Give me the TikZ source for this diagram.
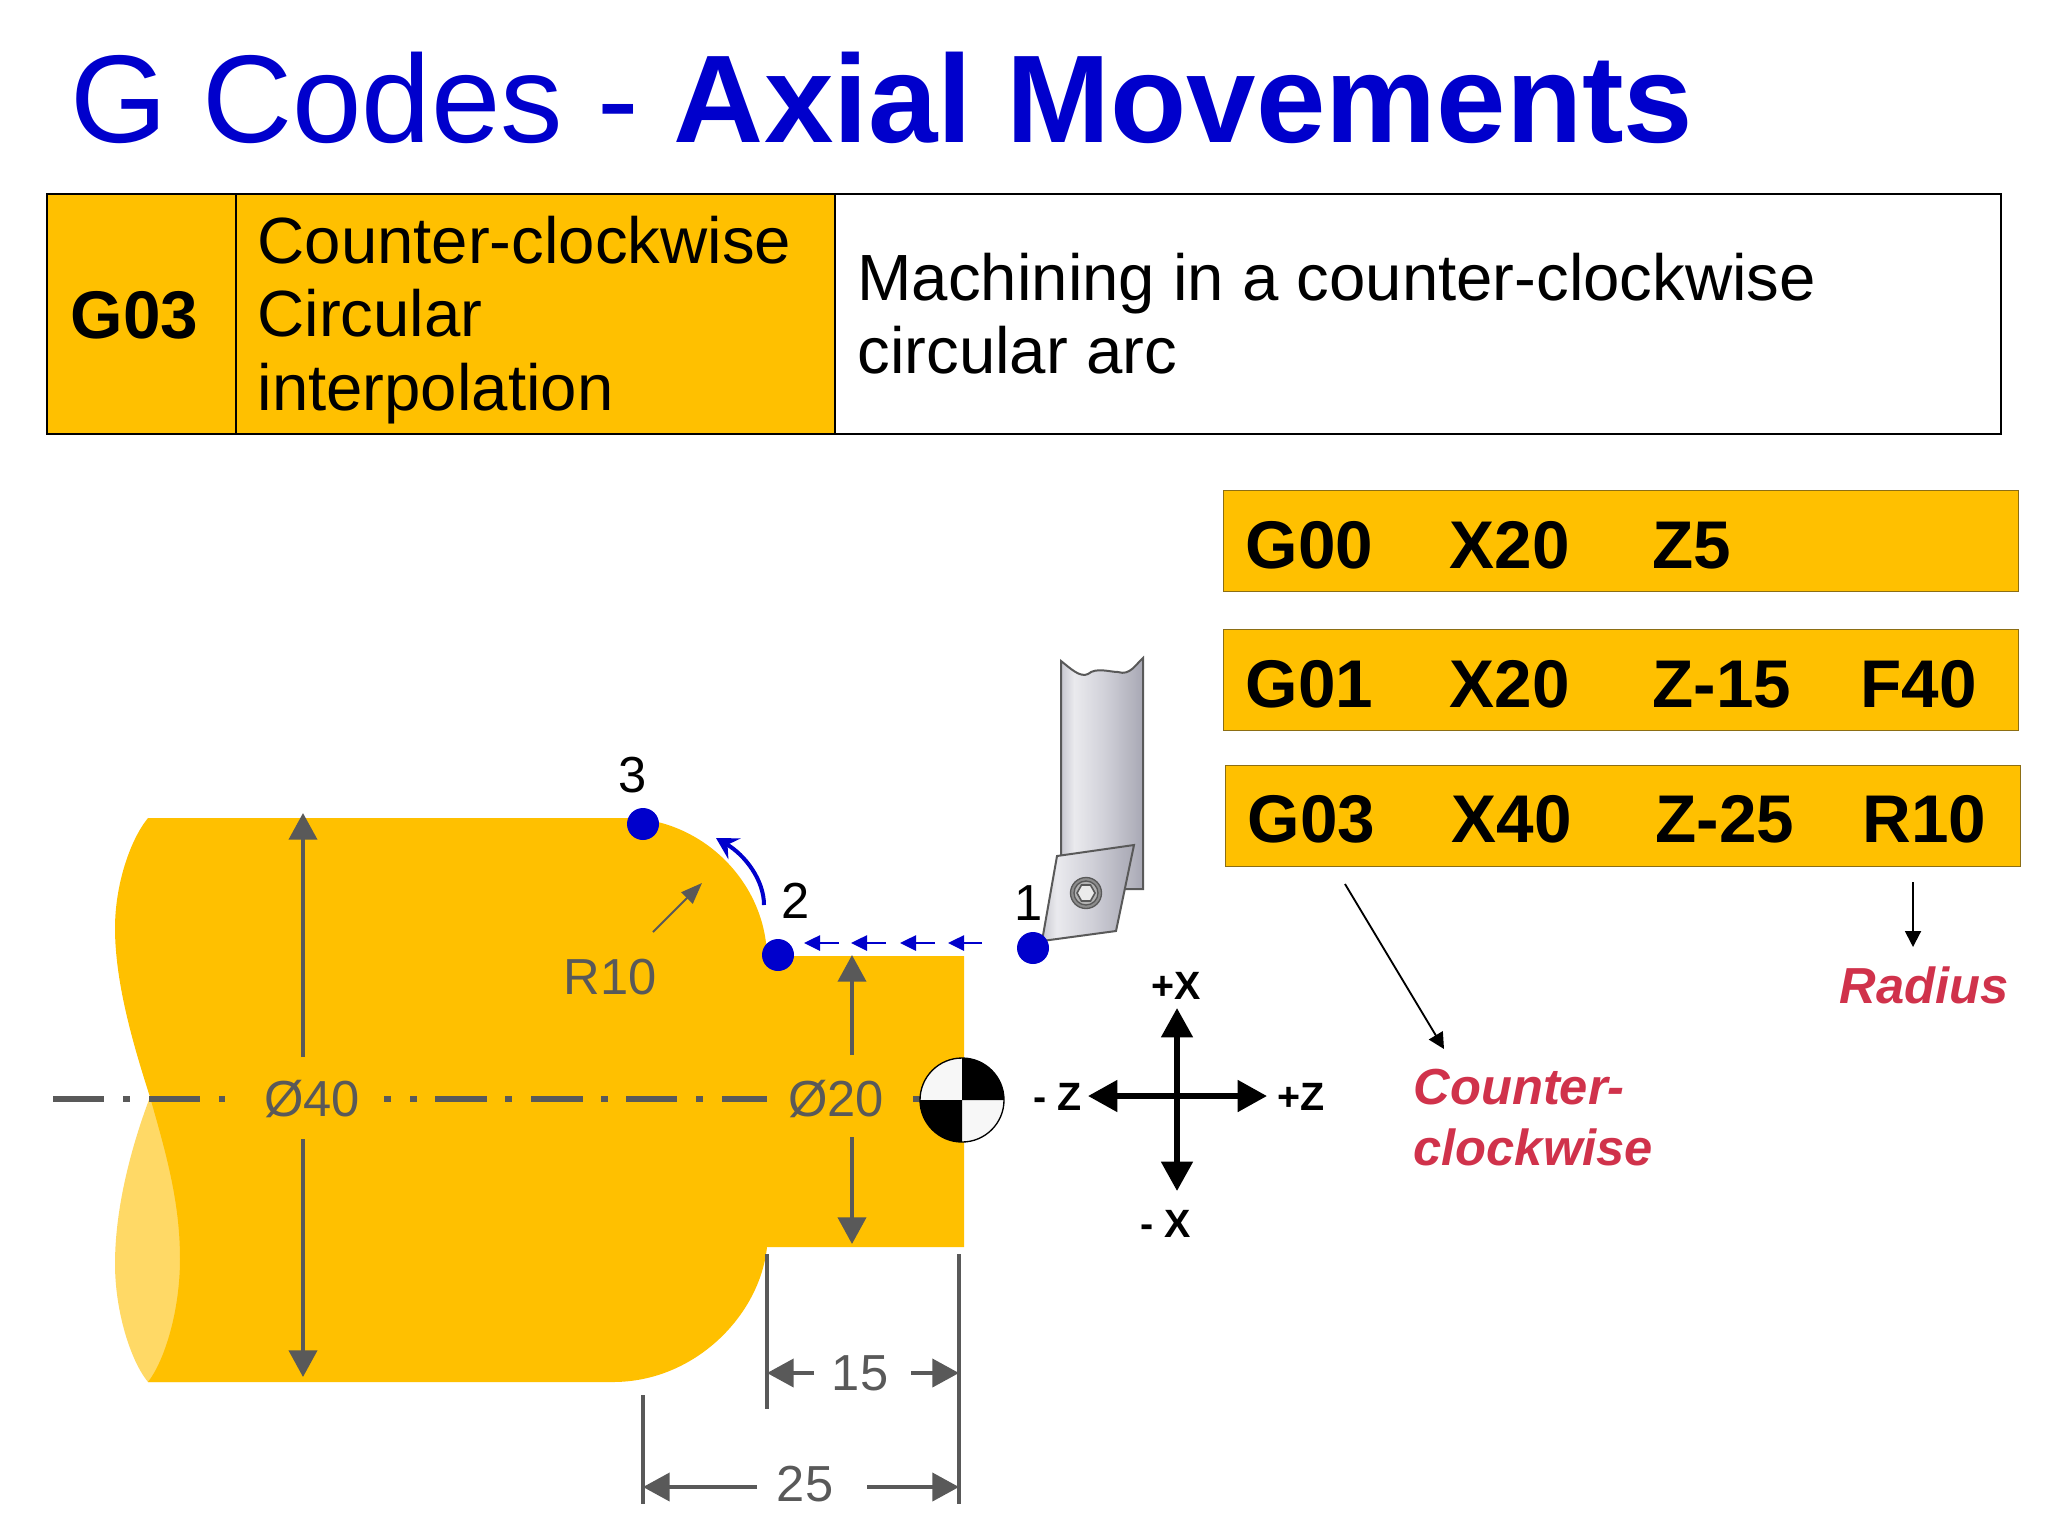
\documentclass[tikz,border=0pt]{standalone}
\usepackage{fontspec}
\setmainfont{Liberation Sans}
\usepackage{xcolor}
\usetikzlibrary{arrows.meta}

\definecolor{partgold}{RGB}{255,192,0}
\definecolor{partpale}{RGB}{255,217,102}
\definecolor{dimgrey}{RGB}{89,89,89}
\definecolor{titleblue}{RGB}{0,0,204}
\definecolor{notered}{RGB}{208,50,75}
\definecolor{boxedge}{RGB}{140,110,20}
\definecolor{steela}{RGB}{200,200,208}
\definecolor{steelb}{RGB}{234,234,238}
\definecolor{steelc}{RGB}{208,208,216}
\definecolor{steeld}{RGB}{168,168,180}
\pgfdeclarehorizontalshading{steelshade}{100bp}{color(0bp)=(steela); color(25bp)=(steela); color(33bp)=(steelb); color(52bp)=(steelc); color(75bp)=(steeld); color(100bp)=(steeld)}

\tikzset{
  txt/.style={inner sep=0pt,anchor=base west},
  tabtxt/.style={txt,font=\fontsize{24.5}{29}\selectfont},
  codetxt/.style={txt,font=\fontsize{25.3}{30}\selectfont\bfseries},
  codebox/.style={draw=boxedge,line width=0.4pt,fill=partgold,anchor=north west,inner sep=0pt,minimum width=298pt,minimum height=38pt},
  dimtxt/.style={inner sep=0pt,text=dimgrey,font=\fontsize{19}{23}\selectfont},
  dimline/.style={draw=dimgrey,line width=1.5pt,-{Triangle[length=10pt,width=10.5pt]}},
  extline/.style={draw=dimgrey,line width=1.5pt},
  centerline/.style={draw=dimgrey,line width=2.4pt},
  bluemove/.style={draw=titleblue,line width=1.1pt,-{Triangle[length=6pt,width=5.6pt]}},
  bluedot/.style={circle,fill=titleblue,inner sep=0pt,minimum size=12pt},
  axisline/.style={draw=black,line width=2.2pt,-{Triangle[length=11pt,width=11.5pt]}},
  axistxt/.style={inner sep=0pt,font=\fontsize{14.8}{17}\selectfont\bfseries},
  numtxt/.style={inner sep=0pt,font=\fontsize{19}{23}\selectfont},
  leader/.style={draw=black,line width=0.7pt,-{Triangle[length=6pt,width=6pt]}},
  notetxt/.style={txt,text=notered,font=\fontsize{19}{23}\selectfont\bfseries\itshape},
  steel/.style={draw=dimgrey,line width=0.75pt,shading=steelshade}
}

\begin{document}
\begin{tikzpicture}[x=0.375pt,y=0.375pt,yscale=-1,xscale=1]
\useasboundingbox (0,0) rectangle (2048,1536);

% title
\draw (70,142) node (title) [txt][text=titleblue] {\fontsize{46.8}{56}\selectfont G Codes - \textbf{Axial Movements}};

% table
\fill [partgold] (47,194) rectangle (835,434);
\draw [line width=0.8pt] (47,194) rectangle (2001,434);
\draw [line width=0.8pt] (236,194) -- (236,434);
\draw [line width=0.8pt] (835,194) -- (835,434);
\draw (70,338) node (tabcode) [codetxt] {G03};
\draw (257,263) node (tabnamea) [tabtxt] {Counter-clockwise};
\draw (257,336) node (tabnameb) [tabtxt] {Circular};
\draw (257,410) node (tabnamec) [tabtxt] {interpolation};
\draw (857,300) node (tabdesca) [tabtxt] {Machining in a counter-clockwise};
\draw (857,373) node (tabdescb) [tabtxt] {circular arc};

% part
\fill [partpale] (150,1097) .. controls (130,1150) and (115,1210) .. (115,1264) .. controls (115,1310) and (130,1360) .. (148,1382) -- (200,1382) -- (200,1097) -- cycle ;
\fill [partgold] (148,818) -- (625,818) .. controls (700,818) and (765,880) .. (767,956) -- (964,956) -- (964,1247) -- (767,1247) .. controls (760,1315) and (695,1382) .. (613,1382) -- (148,1382) .. controls (165,1360) and (180,1310) .. (180,1259) .. controls (180,1200) and (165,1150) .. (150,1097) .. controls (135,1050) and (115,985) .. (115,928) .. controls (115,885) and (130,840) .. (148,818) -- cycle ;

% center line
\foreach \a/\b in {53/104,123/130,149/200,219/225,384/391,410/417,435/487,505/512,531/583,601/608,626/677,696/703,722/767,913/925}
  \draw [centerline] (\a,1099) -- (\b,1099) ;

% dimensions
\draw [dimline] (303,1057) -- (303,813) ;
\draw [dimline] (303,1139) -- (303,1377) ;
\draw [dimline] (852,1055) -- (852,955) ;
\draw [dimline] (852,1137) -- (852,1244) ;
\draw [extline] (767,1254) -- (767,1409) ;
\draw [extline] (959,1254) -- (959,1504) ;
\draw [extline] (643,1395) -- (643,1504) ;
\draw [dimline] (814,1373) -- (767,1373) ;
\draw [dimline] (911,1373) -- (959,1373) ;
\draw [dimline] (757,1487) -- (643,1487) ;
\draw [dimline] (867,1487) -- (959,1487) ;
\draw [draw=dimgrey,line width=0.7pt,-{Triangle[length=8pt,width=6pt]},fill=dimgrey] (653,932) -- (702,883) ;
\draw (312,1099) node (diaforty) [dimtxt] {Ø40};
\draw (836,1099) node (diatwenty) [dimtxt] {Ø20};
\draw (610,977) node (radiustxt) [dimtxt] {R10};
\draw (860,1373) node (lenfifteen) [dimtxt] {15};
\draw (805,1484) node (lentwentyfive) [dimtxt] {25};

% datum symbol
\fill [white!97!black] (962,1100) circle [radius=42];
\fill [black] (962,1100) -- (920,1100) arc [start angle=180,end angle=90,radius=42] -- cycle ;
\fill [black] (962,1100) -- (1004,1100) arc [start angle=0,end angle=-90,radius=42] -- cycle ;
\draw [line width=0.5pt] (962,1100) circle [radius=42];

% tool
\shade [steel] (1061,661) .. controls (1070,668) and (1080,678) .. (1088,674) .. controls (1096,667) and (1110,672) .. (1118,672) .. controls (1130,676) and (1136,664) .. (1143,658) -- (1143,889) -- (1061,889) -- cycle ;
\shade [steel] (1057,856) -- (1134,845) -- (1116,931) -- (1042,941) -- cycle ;
\draw [draw=dimgrey,fill=black!45,line width=0.5pt] (1086,893) circle [radius=15.5];
\draw [draw=dimgrey,fill=black!30,line width=0.5pt] (1086,893) circle [radius=12];
\draw [draw=dimgrey,fill=black!8,line width=0.6pt] (1077,893) -- (1081.5,885) -- (1090.5,885) -- (1095,893) -- (1090.5,901) -- (1081.5,901) -- cycle ;

% moves
\draw [bluemove] (982,943) -- (948,943) ;
\draw [bluemove] (935,943) -- (900,943) ;
\draw [bluemove] (886,943) -- (851,943) ;
\draw [bluemove] (839,943) -- (804,943) ;
\draw [draw=titleblue,line width=1.5pt,-{Stealth[length=8pt,width=9pt,inset=3pt]}] (764,905) .. controls (764,880) and (745,855) .. (716,838) ;
\node (ptone) [bluedot] at (1033,948) {};
\node (pttwo) [bluedot] at (778,955) {};
\node (ptthree) [bluedot] at (643,824) {};
\draw (1029,903) node (numone) [numtxt] {1};
\draw (796,901) node (numtwo) [numtxt] {2};
\draw (633,775) node (numthree) [numtxt] {3};

% axes
\coordinate (axisc) at (1177,1096);
\draw [axisline] (axisc) -- (1177,1008) ;
\draw [axisline] (axisc) -- (1177,1191) ;
\draw [axisline] (axisc) -- (1088,1096) ;
\draw [axisline] (axisc) -- (1267,1096) ;
\draw (1176,986) node (axisxp) [axistxt] {+X};
\draw (1166,1224) node (axisxm) [axistxt] {- X};
\draw (1058,1097) node (axiszm) [axistxt] {- Z};
\draw (1301,1097) node (axiszp) [axistxt] {+Z};

% program lines
\node (boxa) [codebox] at (1223,490) {};
\node (boxb) [codebox] at (1223,629) {};
\node (boxc) [codebox] at (1225,765) {};
\draw (1245,568) node (aone) [codetxt] {G00};
\draw (1449,568) node (atwo) [codetxt] {X20};
\draw (1652,568) node (athree) [codetxt] {Z5};
\draw (1245,707) node (bone) [codetxt] {G01};
\draw (1449,707) node (btwo) [codetxt] {X20};
\draw (1652,707) node (bthree) [codetxt] {Z-15};
\draw (1860,707) node (bfour) [codetxt] {F40};
\draw (1247,842) node (cone) [codetxt] {G03};
\draw (1451,842) node (ctwo) [codetxt] {X40};
\draw (1655,842) node (cthree) [codetxt] {Z-25};
\draw (1862,842) node (cfour) [codetxt] {R10};

% notes
\coordinate (ccwfrom) at (1345,884);
\coordinate (ccwto) at (1444,1049);
\coordinate (radfrom) at (1913,882);
\coordinate (radto) at (1913,947);
\draw [leader] (ccwfrom) -- (ccwto) ;
\draw [leader] (radfrom) -- (radto) ;
\draw (1413,1104) node (noteccwa) [notetxt] {Counter-};
\draw (1413,1165) node (noteccwb) [notetxt] {clockwise};
\draw (1839,1003) node (noterad) [notetxt] {Radius};

\end{tikzpicture}
\end{document}
